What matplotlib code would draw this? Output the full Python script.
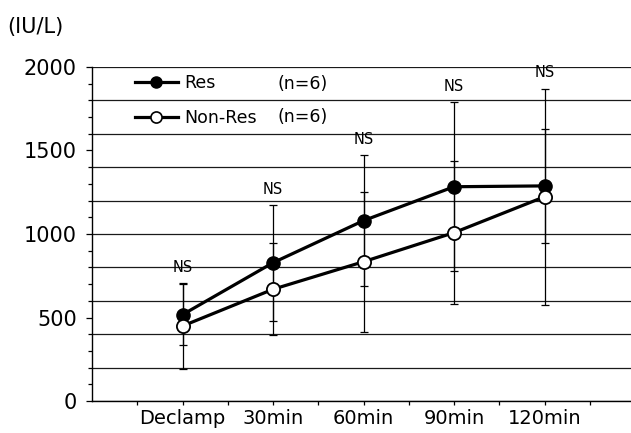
import matplotlib
matplotlib.use("Agg")
import matplotlib.pyplot as plt
from matplotlib.lines import Line2D
import numpy as np

plt.rcParams['font.family'] = ['DejaVu Sans']

categories = ["Declamp", "30min", "60min", "90min", "120min"]
res_mean = [517, 828, 1080, 1283, 1288]
res_sd = [182, 346, 393, 505, 340]
nonres_mean = [449, 669, 834, 1008, 1223]
nonres_sd = [255, 276, 419, 427, 648]
sig_labels = ["NS", "NS", "NS", "NS", "NS"]
y_tick_values = [0, 500, 1000, 1500, 2000]
legend_labels = ["Res", "Non-Res"]
n_labels = ["(n=6)", "(n=6)"]

fig = plt.figure(figsize=(6.31, 4.33), dpi=100)
ax = fig.add_axes([92/631, 32/433, 543/631, 334/433])

x = np.arange(1, len(categories) + 1)

ax.set_xlim(0, 6)
ax.set_ylim(0, 2000)

# horizontal grid lines every 200
for g in np.arange(0, 2001, 200):
    ax.axhline(g, color="#1a1a1a", lw=0.9, zorder=1)

# error bars
ax.errorbar(x, res_mean, yerr=res_sd, fmt="none", ecolor="black",
            elinewidth=0.9, capsize=3, capthick=0.9, zorder=2)
ax.errorbar(x, nonres_mean, yerr=nonres_sd, fmt="none", ecolor="black",
            elinewidth=0.9, capsize=3, capthick=0.9, zorder=2)

# lines
ax.plot(x, res_mean, color="black", lw=2.3, marker="o", ms=9.5,
        mfc="black", mec="black", zorder=3)
ax.plot(x, nonres_mean, color="black", lw=2.3, marker="o", ms=9.5,
        mfc="white", mec="black", mew=1.3, zorder=4)

# significance labels
for xi, rm, rs, nm, ns, lab in zip(x, res_mean, res_sd, nonres_mean, nonres_sd, sig_labels):
    top = max(rm + rs, nm + ns)
    ax.annotate(lab, xy=(xi, top), xytext=(0, 6), textcoords="offset points",
                ha="center", va="bottom", fontsize=10.5)

# spines
for s in ["top", "right"]:
    ax.spines[s].set_visible(False)
ax.spines["left"].set_linewidth(1.0)
ax.spines["bottom"].set_linewidth(1.0)

# ticks
ax.set_yticks(y_tick_values)
ax.set_yticklabels([str(v) for v in y_tick_values], fontsize=15)
ax.set_yticks(np.arange(0, 2001, 100), minor=True)
ax.tick_params(axis="y", which="major", length=4, width=0.9, pad=7, direction="out")
ax.tick_params(axis="y", which="minor", length=3, width=0.9, direction="out")

ax.set_xticks(x)
ax.set_xticklabels(categories, fontsize=14)
ax.set_xticks(np.arange(0.5, 6, 1), minor=True)
ax.tick_params(axis="x", which="major", length=3, width=0.9, pad=3, direction="out")
ax.tick_params(axis="x", which="minor", length=3, width=0.9, direction="out")

# legend
handles = [
    Line2D([], [], color="black", lw=2.3, marker="o", ms=8, mfc="black", mec="black"),
    Line2D([], [], color="black", lw=2.3, marker="o", ms=8, mfc="white", mec="black", mew=1.2),
]
ax.legend(handles, legend_labels, loc="center left", bbox_to_anchor=(0.47, 1800),
          bbox_transform=ax.transData, frameon=False, fontsize=12.5,
          handlelength=2.5, handletextpad=0.35, borderpad=0, borderaxespad=0,
          labelspacing=0.95)
for lab, yv in zip(n_labels, [1900, 1700]):
    ax.text(2.05, yv, lab, ha="left", va="center", fontsize=12.5)

fig.text(7/631, 1 - 27/433, "(IU/L)", ha="left", va="center", fontsize=15)

fig.savefig("out.png", dpi=100)
